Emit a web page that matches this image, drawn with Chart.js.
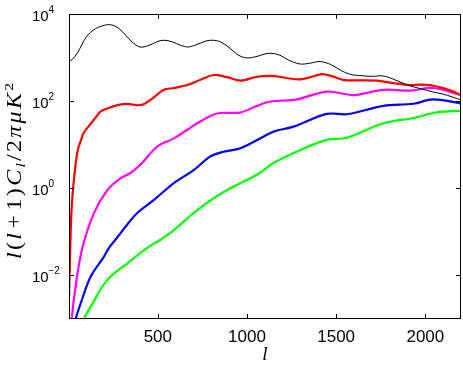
<!DOCTYPE html>
<html>
<head>
<meta charset="utf-8">
<script src="https://cdn.jsdelivr.net/npm/chart.js@4"></script>
<style>
  html, body { margin: 0; padding: 0; background: #fff; }
</style>
</head>
<body>
<div style="width:463px;height:365px"><canvas id="c" width="463" height="365"></canvas></div>
<script>
// multipole l and l(l+1)C_l/2pi for each spectrum
const lBlack = [2, 20, 50, 100, 150, 200, 225, 260, 300, 350, 400, 450, 500, 535, 580, 630, 670, 720, 770, 810, 850, 900, 950, 1000, 1050, 1120, 1180, 1240, 1300, 1350, 1410, 1470, 1530, 1580, 1640, 1700, 1760, 1820, 1900, 1980, 2050, 2100, 2150, 2200];
const dBlack = [820, 900, 1300, 3000, 4600, 5500, 5700, 5300, 4000, 2400, 1750, 1900, 2350, 2500, 2300, 1900, 1750, 2000, 2400, 2500, 2300, 1700, 1150, 980, 1050, 1250, 1150, 850, 710, 740, 810, 690, 500, 410, 385, 370, 380, 320, 235, 190, 160, 145, 125, 107];

const lRed = [2, 8, 15, 23, 35, 51, 70, 84, 123, 151, 180, 217, 273, 329, 403, 459, 534, 590, 665, 739, 813, 888, 963, 1056, 1140, 1220, 1299, 1360, 1420, 1480, 1539, 1620, 1728, 1820, 1914, 1970, 2026, 2100, 2150, 2200];
const dRed = [0.003, 0.03, 0.25, 0.8, 2.5, 7.5, 13, 18.6, 30, 42, 58, 68, 81, 87, 81, 107, 182, 200, 234, 309, 398, 355, 295, 363, 380, 340, 316, 360, 417, 370, 309, 300, 295, 260, 234, 240, 234, 200, 170, 138];

const lMagenta = [10, 17, 40, 77, 142, 217, 291, 347, 403, 497, 590, 665, 720, 832, 963, 1056, 1131, 1280, 1448, 1597, 1765, 1914, 2044, 2200];
const dMagenta = [0.0003, 0.001, 0.006, 0.043, 0.27, 0.91, 1.7, 2.24, 3.5, 9.1, 14, 22, 31, 52, 55, 78, 98, 110, 166, 138, 182, 174, 200, 138];

const lBlue = [30, 40, 68, 123, 198, 226, 273, 330, 385, 478, 590, 701, 795, 869, 963, 1075, 1149, 1261, 1448, 1560, 1765, 1933, 2043, 2200];
const dBlue = [0.0005, 0.001, 0.0023, 0.0093, 0.027, 0.043, 0.075, 0.15, 0.27, 0.54, 1.32, 2.6, 5.4, 6.9, 8.3, 14, 20, 26, 51, 50, 78, 87, 110, 89];

const lGreen = [70, 86, 123, 217, 329, 441, 515, 590, 701, 813, 925, 1019, 1075, 1149, 1299, 1448, 1560, 1765, 1933, 2063, 2200];
const dGreen = [0.0006, 0.001, 0.0019, 0.0079, 0.019, 0.043, 0.066, 0.11, 0.27, 0.59, 1.1, 1.7, 2.3, 3.8, 7.6, 12.9, 14.5, 31, 41, 55, 60];

const xTicks = [500, 1000, 1500, 2000];
const yExps = [4, 2, 0, -2];

function pts(ls, vs) {
    return ls.map((l, i) => ({ x: l, y: vs[i] }));
}

// frame, inward ticks and gnuplot-like labels
const axesPlugin = {
    id: 'axesPlugin',
    afterDraw(chart) {
        const { ctx, chartArea: a, scales: { x, y } } = chart;
        ctx.save();
        ctx.strokeStyle = '#000';
        ctx.lineWidth = 1;
        ctx.strokeRect(a.left + 0.5, a.top + 0.5, a.right - a.left - 1, a.bottom - a.top - 1);

        ctx.beginPath();
        xTicks.forEach(v => {
            const px = Math.round(x.getPixelForValue(v)) + 0.5;
            ctx.moveTo(px, a.bottom); ctx.lineTo(px, a.bottom - 5);
            ctx.moveTo(px, a.top); ctx.lineTo(px, a.top + 5);
        });
        yExps.forEach(e => {
            const py = Math.round(y.getPixelForValue(Math.pow(10, e))) + 0.5;
            ctx.moveTo(a.left, py); ctx.lineTo(a.left + 5, py);
            ctx.moveTo(a.right, py); ctx.lineTo(a.right - 5, py);
        });
        ctx.stroke();

        ctx.fillStyle = '#000';
        ctx.font = '17px "Liberation Sans", Arial, sans-serif';
        ctx.textAlign = 'center';
        ctx.textBaseline = 'middle';
        xTicks.forEach(v => {
            ctx.fillText(String(v), x.getPixelForValue(v), 337);
        });

        // y labels: 10 with a superscript exponent
        ctx.textAlign = 'left';
        ctx.textBaseline = 'alphabetic';
        yExps.forEach(e => {
            const py = y.getPixelForValue(Math.pow(10, e));
            ctx.font = '15px "Liberation Sans", Arial, sans-serif';
            ctx.fillText('10', 32, py + 7);
            ctx.font = '10px "Liberation Sans", Arial, sans-serif';
            ctx.fillText(e < 0 ? '\u2212' + (-e) : String(e), 48.5, py - 1);
        });

        // x title
        ctx.font = 'italic 19px "Liberation Serif", serif';
        ctx.textAlign = 'center';
        ctx.fillText('l', (a.left + a.right) / 2, 360);

        // y title, rotated; fitted to the original's length
        const it = 'italic 20px "Liberation Serif", serif';
        const rm = '20px "Liberation Serif", serif';
        const itS = 'italic 13px "Liberation Serif", serif';
        const rmS = '13px "Liberation Serif", serif';
        const runs = [
            ['l', it, 0], ['(', rm, 0], ['l', it, 0], [' + 1)', rm, 0], ['C', it, 0],
            ['l', itS, 4], ['/2', rm, 0], ['\u03c0\u03bcK', it, 0], ['2', rmS, -8]
        ];
        const glyphs = [];
        runs.forEach(r => {
            for (const ch of r[0]) {
                if (ch === ' ') { glyphs[glyphs.length - 1].extra = 1; continue; }
                glyphs.push({ ch: ch, font: r[1], dy: r[2], extra: 0 });
            }
        });
        let w = 0;
        glyphs.forEach(g => { ctx.font = g.font; g.w = ctx.measureText(g.ch).width; w += g.w; });
        const total = 176;
        const stretch = Math.min(1.2, Math.max(1, total / w));
        const gap = Math.max(0, (total / stretch - w) / (glyphs.length + 1));
        ctx.translate(20.5, 171);
        ctx.rotate(-Math.PI / 2);
        ctx.scale(stretch, 1);
        ctx.textAlign = 'left';
        let cx = -(w + gap * (glyphs.length + 1)) / 2;
        glyphs.forEach(g => {
            ctx.font = g.font;
            ctx.fillText(g.ch, cx, g.dy);
            cx += g.w + gap + g.extra * gap;
        });
        ctx.restore();
    }
};

const line = (data, color, width) => ({
    data: data,
    borderColor: color,
    borderWidth: width,
    pointRadius: 0,
    tension: 0.35,
    fill: false
});

new Chart(document.getElementById('c'), {
    type: 'line',
    data: {
        datasets: [
            line(pts(lBlack, dBlack), '#000000', 1),
            line(pts(lRed, dRed), '#ff0000', 2.2),
            line(pts(lMagenta, dMagenta), '#ff00ff', 2.2),
            line(pts(lBlue, dBlue), '#0000ff', 2.2),
            line(pts(lGreen, dGreen), '#00ff00', 2.2)
        ]
    },
    options: {
        responsive: false,
        animation: false,
        devicePixelRatio: 1,
        layout: { padding: { top: 14, right: 2, left: 0, bottom: 0 } },
        plugins: { legend: { display: false }, tooltip: { enabled: false } },
        scales: {
            x: {
                type: 'linear',
                min: 2,
                max: 2200,
                grid: { display: false },
                border: { display: false },
                ticks: { display: false },
                afterFit(s) { s.height = 46; }
            },
            y: {
                type: 'logarithmic',
                min: 1e-3,
                max: 1e4,
                grid: { display: false },
                border: { display: false },
                ticks: { display: false },
                afterFit(s) { s.width = 69; }
            }
        }
    },
    plugins: [axesPlugin]
});
</script>
</body>
</html>
